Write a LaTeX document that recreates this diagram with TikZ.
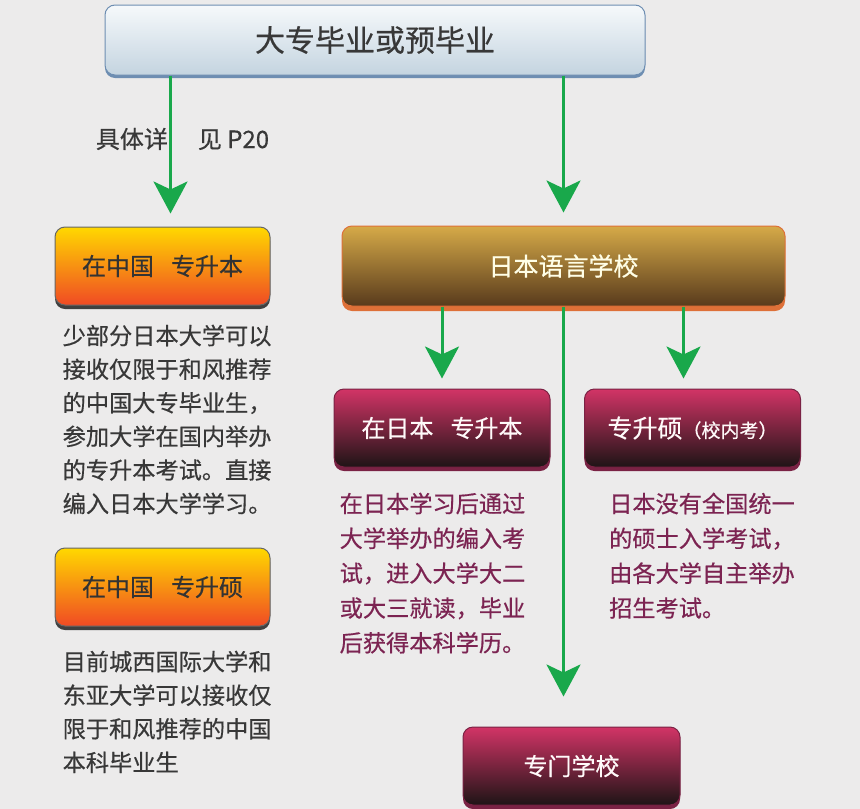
\documentclass[tikz,border=0pt]{standalone}
\usepackage{fontspec}
\newfontfamily\cjk{Noto Sans CJK SC}[FakeBold=0.5]
\usepackage{xcolor}
\usepackage{tikz}
\usetikzlibrary{
  positioning,
  arrows.meta,
  shadows,
}
\definecolor{bg}{HTML}{ECEBEB}
\definecolor{flowgreen}{HTML}{19A84B}
\definecolor{skytop}{HTML}{F6F9FB}
\definecolor{skybot}{HTML}{C4D4E0}
\definecolor{skyline}{HTML}{6E8EB2}
\definecolor{suntop}{HTML}{FFD800}
\definecolor{sunbot}{HTML}{F04A24}
\definecolor{goldtop}{HTML}{D6AA48}
\definecolor{goldbot}{HTML}{583A1C}
\definecolor{goldrim}{HTML}{DE7038}
\definecolor{rosetop}{HTML}{D23466}
\definecolor{rosebot}{HTML}{1E1416}
\definecolor{roserim}{HTML}{7A2244}
\definecolor{greytext}{HTML}{383838}
\definecolor{winetext}{HTML}{7C2452}
\tikzset{
  meta box/.style={
    rounded corners=10pt,
    line width=1pt,
    inner sep=0pt,
    text centered
  },
  sky box/.style={
    meta box,
    draw=skyline,
    top color=skytop,
    bottom color=skybot,
    drop shadow={shadow xshift=0pt, shadow yshift=-3pt, fill=skyline, opacity=1},
    text=greytext,
    font=\cjk\fontsize{30}{30}\selectfont
  },
  sun box/.style={
    meta box,
    draw=black!60,
    top color=suntop,
    bottom color=sunbot,
    drop shadow={shadow xshift=0pt, shadow yshift=-4pt, fill=black!75, opacity=1},
    minimum width=215pt,
    minimum height=78pt,
    text=black!80,
    font=\cjk\fontsize{24}{24}\selectfont
  },
  gold box/.style={
    meta box,
    draw=goldrim,
    top color=goldtop,
    bottom color=goldbot,
    drop shadow={shadow xshift=0pt, shadow yshift=-5pt, fill=goldrim, opacity=1},
    text=white!90!yellow,
    font=\cjk\fontsize{25}{25}\selectfont
  },
  rose box/.style={
    meta box,
    draw=roserim,
    top color=rosetop,
    bottom color=rosebot,
    drop shadow={shadow xshift=0pt, shadow yshift=-4pt, fill=roserim, opacity=1},
    minimum width=216pt,
    minimum height=78pt,
    text=white!92!pink,
    font=\cjk\fontsize{24}{24}\selectfont
  },
  note/.style={
    inner sep=0pt,
    align=left,
    text=greytext,
    font=\cjk\fontsize{23.2}{33.6}\selectfont
  },
  wine note/.style={
    note,
    text=winetext,
    font=\cjk\fontsize{23.2}{34.8}\selectfont
  },
  flow/.style={
    draw=flowgreen,
    line width=3pt,
    -{Stealth[length=32pt, width=34pt, inset=8pt]}
  }
}

\begin{document}
\begin{tikzpicture}[x=1pt, y=-1pt, font=\cjk]
  \fill[bg] (0,0) rectangle (860,809);
  \useasboundingbox (0,0) rectangle (860,809);

  \node[sky box, minimum width=540pt, minimum height=70pt] (start) at (375,40) {大专毕业或预毕业};

  %% China side
  \node[sun box] (cnbk) at (162.5,266) {在中国\hspace{17pt}专升本};
  \node[note, below right=19pt and 8pt of cnbk.south west] (cnbknote)
    {少部分日本大学可以\\接收仅限于和风推荐\\的中国大专毕业生，\\参加大学在国内举办\\的专升本考试。直接\\编入日本大学学习。};
  \node[sun box] (cnms) at (162.5,587) {在中国\hspace{17pt}专升硕};
  \node[note, below right=24pt and 8pt of cnms.south west] (cnmsnote)
    {目前城西国际大学和\\东亚大学可以接收仅\\限于和风推荐的中国\\本科毕业生};

  %% Japan side
  \node[gold box, minimum width=443pt, minimum height=80pt] (school) at (563.5,266) {日本语言学校};
  \node[rose box] (jpbk) at (442,428) {在日本\hspace{17pt}专升本};
  \node[rose box] (jpms) at (692.5,428) {\fontsize{25}{25}\selectfont 专升硕{\fontsize{19}{19}\selectfont （校内考）}};
  \node[wine note, below right=25pt and 6pt of jpbk.south west] (jpbknote)
    {在日本学习后通过\\大学举办的编入考\\试，进入大学大二\\或大三就读，毕业\\后获得本科学历。};
  \node[wine note, below right=25pt and 25pt of jpms.south west] (jpmsnote)
    {日本没有全国统一\\的硕士入学考试，\\由各大学自主举办\\招生考试。};
  \node[rose box, minimum width=217pt] (senmon) at (571.5,766) {专门学校};

  \draw[flow, shorten >=13pt] ([xshift=8pt]start.south -| cnbk.north) -- ([xshift=8pt]cnbk.north)
    node[pos=0.42, text=greytext, font=\cjk\fontsize{24}{24}\selectfont, xshift=12pt] (p20) {具体详\hspace{30pt}见 P20};
  \draw[flow, shorten >=13pt] (start.south -| school.north) -- (school.north);
  \draw[flow, shorten >=10pt] (school.south -| jpbk.north) -- (jpbk.north);
  \draw[flow, shorten >=10pt] ([xshift=-9pt]school.south -| jpms.north) -- ([xshift=-9pt]jpms.north);
  \draw[flow, shorten >=30pt] (school.south) -- (school.south |- senmon.north);
\end{tikzpicture}
\end{document}
